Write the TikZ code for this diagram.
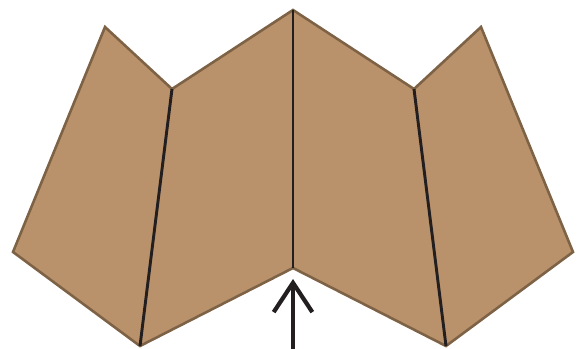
\documentclass[tikz,border=0pt]{standalone}
\usepackage{tikz}
\usetikzlibrary{arrows.meta}
\definecolor{paper}{RGB}{185,146,108}
\definecolor{paperedge}{RGB}{125,98,70}
\definecolor{foldline}{RGB}{35,31,32}

\begin{document}
\begin{tikzpicture}[
    x=0.03cm, y=-0.03cm,
    sheet/.style={fill=paper, draw=paperedge, line width=2.2pt, line join=miter},
    fold/.style={draw=foldline, line width=2.5pt},
    push/.style={-{Straight Barb[length=25pt, width=33pt, line width=3.6pt]}, foldline, line width=3.6pt}
  ]
  \useasboundingbox (0,0) rectangle (587,349);
  % corners of the folded sheet
  \coordinate (lw) at (13,252);
  \coordinate (lt) at (105,27);
  \coordinate (lv) at (172,89);
  \coordinate (ct) at (293,10);
  \coordinate (rv) at (414,89);
  \coordinate (rt) at (481,27);
  \coordinate (rw) at (573,252);
  \coordinate (rb) at (446,346);
  \coordinate (cb) at (293,268);
  \coordinate (lb) at (140,346);
  \path[sheet] (lw) -- (lt) -- (lv) -- (ct) -- (rv) -- (rt) -- (rw) -- (rb) -- (cb) -- (lb) -- cycle;
  % folds
  \draw[fold] (lv) -- (lb);
  \draw[fold] (ct) -- (cb);
  \draw[fold] (rv) -- (rb);
  % arrow
  \coordinate (tail) at (293,349);
  \coordinate (tip) at (293,279);
  \draw[push] (tail) -- (tip);
\end{tikzpicture}
\end{document}
